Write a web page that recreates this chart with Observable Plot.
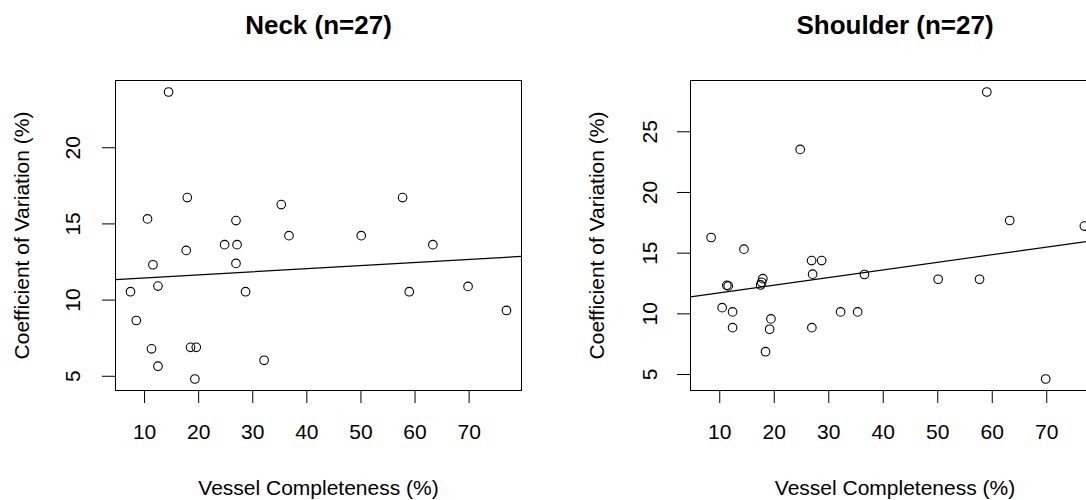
<!DOCTYPE html>
<html>
<head>
<meta charset="utf-8">
<script src="https://cdn.jsdelivr.net/npm/d3@7"></script>
<script src="https://cdn.jsdelivr.net/npm/@observablehq/plot@0.6"></script>
<style>
  html, body { margin: 0; padding: 0; background: #fff; overflow: hidden; }
  #wrap { position: relative; width: 1086px; height: 500px; overflow: hidden; }
  #left, #right { position: absolute; top: 0; }
  #left { left: 0; width: 543px; }
  #right { left: 543px; width: 570px; }
  svg { font-family: "Liberation Sans", Arial, sans-serif; max-width: none !important; }
</style>
</head>
<body>
<div id="wrap"><div id="left"></div><div id="right"></div></div>
<script>
// ---- data ----
const neckTitle = "Neck (n=27)";
const shoulderTitle = "Shoulder (n=27)";
const xLabel = "Vessel Completeness (%)";
const yLabel = "Coefficient of Variation (%)";

const neckCompleteness = [14.44, 17.9, 10.55, 35.27, 26.9, 36.7, 50.05, 17.7, 24.8, 27.1, 11.55, 26.9, 57.7, 63.3, 58.93, 69.8, 76.9, 7.41, 12.48, 28.67, 8.47, 11.29, 18.5, 19.56, 12.48, 32.1, 19.3];
const neckCV = [23.66, 16.73, 15.33, 16.27, 15.22, 14.23, 14.23, 13.26, 13.64, 13.64, 12.32, 12.41, 16.73, 13.64, 10.55, 10.9, 9.32, 10.55, 10.92, 10.55, 8.66, 6.8, 6.9, 6.9, 5.66, 6.05, 4.82];

const shoulderCompleteness = [24.76, 8.41, 14.44, 26.85, 28.7, 11.55, 17.9, 17.5, 27.04, 36.55, 10.44, 12.35, 12.35, 19.39, 19.15, 26.9, 18.4, 32.17, 35.3, 59.0, 63.2, 76.9, 50.07, 57.67, 69.8, 11.29, 17.7];
const shoulderCV = [23.55, 16.29, 15.33, 14.39, 14.39, 12.3, 12.9, 12.38, 13.27, 13.24, 10.51, 10.16, 8.86, 9.58, 8.73, 8.86, 6.88, 10.16, 10.16, 28.28, 17.69, 17.23, 12.85, 12.85, 4.63, 12.35, 12.6];

const xTicks = [10, 20, 30, 40, 50, 60, 70];
const neckYTicks = [5, 10, 15, 20];
const shoulderYTicks = [5, 10, 15, 20, 25];

// ---- helpers ----
function rExtent(v) {           // R-style 4% padded range
  const [lo, hi] = d3.extent(v);
  const p = (hi - lo) * 0.04;
  return [lo - p, hi + p];
}
function fit(xs, ys) {          // least squares
  const mx = d3.mean(xs), my = d3.mean(ys);
  let sxy = 0, sxx = 0;
  xs.forEach((x, i) => { sxy += (x - mx) * (ys[i] - my); sxx += (x - mx) ** 2; });
  const b = sxy / sxx;
  return {a: my - b * mx, b};
}

const xDomain = rExtent(neckCompleteness);

function panel({xs, ys, yTicks, title, width, marginLeft, marginRight, yLabDx, yTitleDx}) {
  const pts = xs.map((x, i) => ({x, y: ys[i]}));
  const yDomain = rExtent(ys);
  const {a, b} = fit(xs, ys);
  const reg = xDomain.map(x => ({x, y: a + b * x}));
  const fs = 21;
  const t = {fontSize: fs, fill: "#000", textAnchor: "middle", lineAnchor: "middle"};
  return Plot.plot({
    width, height: 500,
    marginLeft, marginRight, marginTop: 80, marginBottom: 110,
    style: {fontFamily: "'Liberation Sans', Arial, sans-serif", color: "#000", background: "#fff", maxWidth: "none"},
    x: {domain: xDomain, axis: null},
    y: {domain: yDomain, axis: null},
    marks: [
      Plot.frame({stroke: "#000", strokeWidth: 1}),
      Plot.axisX({ticks: xTicks, tickSize: 13, tickFormat: () => "", stroke: "#000", label: null}),
      Plot.axisY({ticks: yTicks, tickSize: 13, tickFormat: () => "", stroke: "#000", label: null}),
      Plot.text(xTicks, {...t, x: d => d, frameAnchor: "bottom", dy: 42, text: d => String(d)}),
      Plot.text(yTicks, {...t, y: d => d, frameAnchor: "left", dx: yLabDx, rotate: -90, text: d => String(d)}),
      Plot.text([xLabel], {...t, frameAnchor: "bottom", dy: 98, text: d => d}),
      Plot.text([yLabel], {...t, frameAnchor: "left", dx: yTitleDx, rotate: -90, text: d => d}),
      Plot.text([title], {...t, frameAnchor: "top", dy: -55, fontSize: 26, fontWeight: "bold", text: d => d}),
      Plot.line(reg, {x: "x", y: "y", stroke: "#000", strokeWidth: 1.2, clip: true}),
      Plot.dot(pts, {x: "x", y: "y", r: 4.3, stroke: "#000", strokeWidth: 1.1, fill: "none"})
    ]
  });
}

document.getElementById("left").append(panel({
  xs: neckCompleteness, ys: neckCV, yTicks: neckYTicks, title: neckTitle,
  width: 543, marginLeft: 115, marginRight: 22, yLabDx: -42, yTitleDx: -93
}));
document.getElementById("right").append(panel({
  xs: shoulderCompleteness, ys: shoulderCV, yTicks: shoulderYTicks, title: shoulderTitle,
  width: 570, marginLeft: 147, marginRight: 14, yLabDx: -40, yTitleDx: -93
}));
</script>
</body>
</html>
